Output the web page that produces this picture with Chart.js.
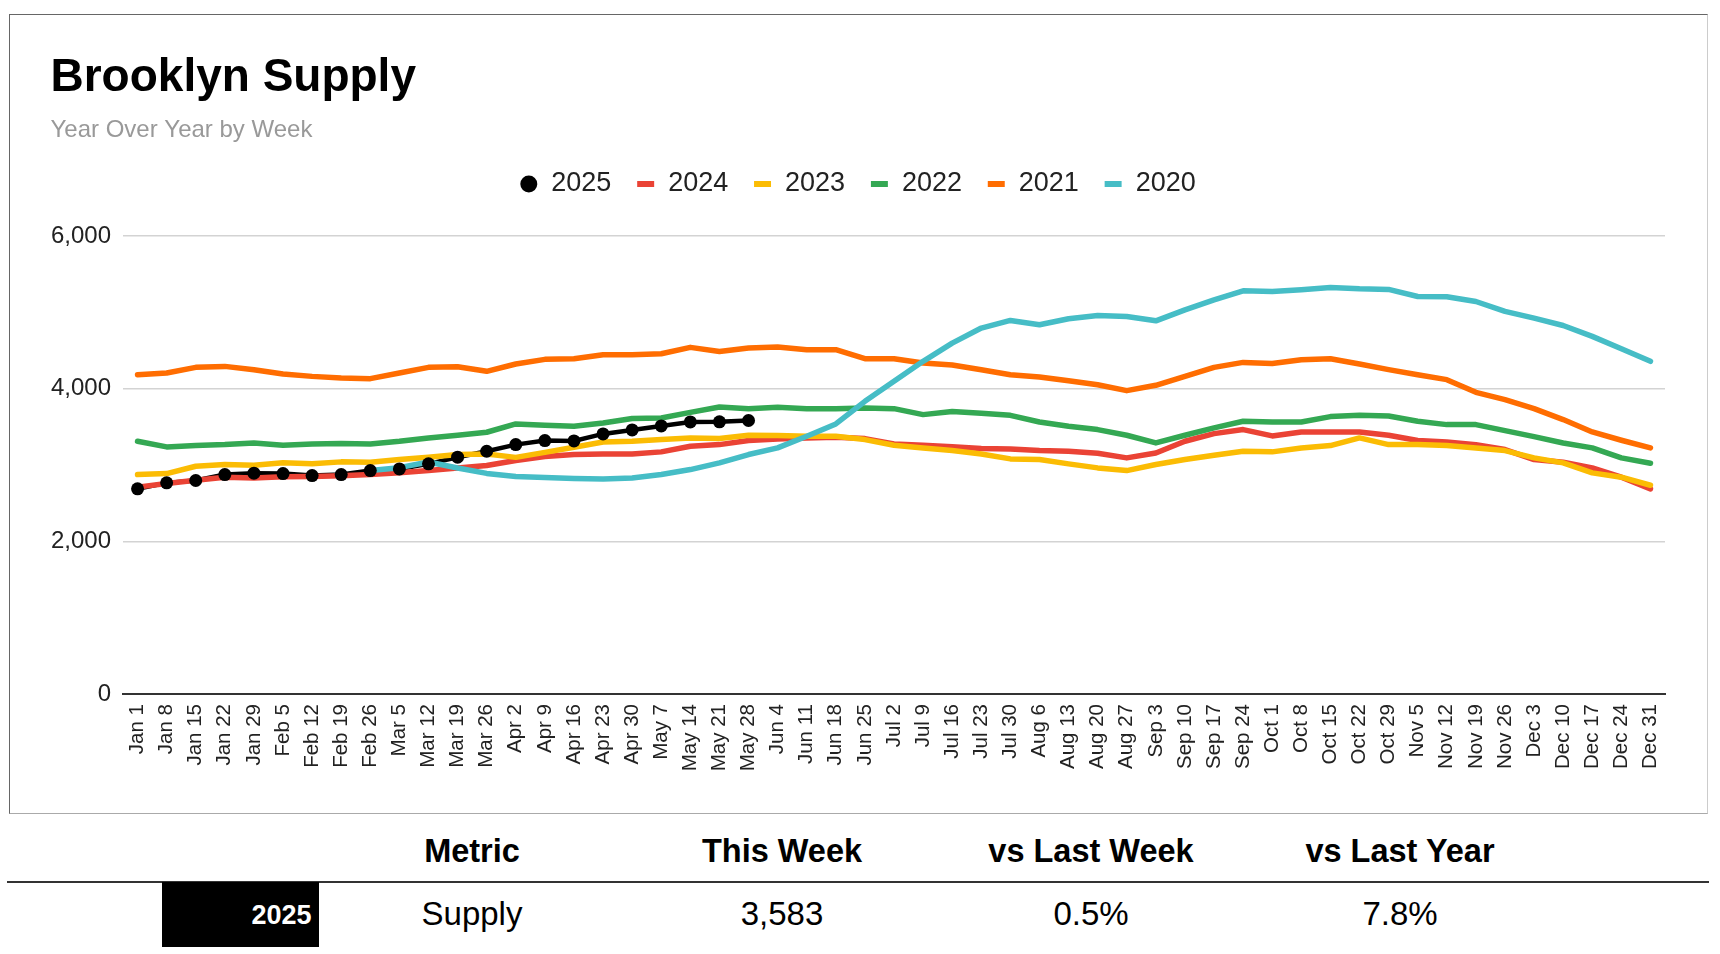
<!DOCTYPE html>
<html>
<head>
<meta charset="utf-8">
<script src="https://cdn.jsdelivr.net/npm/chart.js@4.4.1/dist/chart.umd.min.js"></script>
<style>
  html, body { margin:0; padding:0; background:#fff; width:1720px; height:954px; overflow:hidden;
    font-family:'Liberation Sans', Arial, sans-serif; }
  #frame { position:absolute; left:9px; top:14px; width:1697px; height:798px;
    border:1px solid #aaa; border-top-color:#666; border-left-color:#666; border-right-color:#ccc; }
  #wrap { position:absolute; left:0; top:0; width:1697px; height:798px; }
  .t { position:absolute; white-space:nowrap; line-height:1; transform:translateX(-50%); color:#000; }
  .h { font-weight:bold; font-size:32.5px; top:834.5px; }
  .r { font-size:33px; top:897.4px; }
  #rule { position:absolute; left:7px; top:881px; width:1702px; height:2px; background:#333; }
  #yearbox { position:absolute; left:161.5px; top:882px; width:157px; height:65px; background:#000; }
  #yeartxt { position:absolute; right:7px; top:19.8px; color:#fff; font-weight:bold; font-size:27px; line-height:1; }
</style>
</head>
<body>
<div id="frame"><div id="wrap"><canvas id="c"></canvas></div></div>

<div class="t h" style="left:472px">Metric</div>
<div class="t h" style="left:782px">This Week</div>
<div class="t h" style="left:1091px">vs Last Week</div>
<div class="t h" style="left:1400px">vs Last Year</div>
<div id="rule"></div>
<div id="yearbox"><div id="yeartxt">2025</div></div>
<div class="t r" style="left:472px">Supply</div>
<div class="t r" style="left:782px">3,583</div>
<div class="t r" style="left:1091px">0.5%</div>
<div class="t r" style="left:1400px">7.8%</div>

<script>
const weeks = ["Jan 1","Jan 8","Jan 15","Jan 22","Jan 29","Feb 5","Feb 12","Feb 19","Feb 26","Mar 5","Mar 12","Mar 19","Mar 26","Apr 2","Apr 9","Apr 16","Apr 23","Apr 30","May 7","May 14","May 21","May 28","Jun 4","Jun 11","Jun 18","Jun 25","Jul 2","Jul 9","Jul 16","Jul 23","Jul 30","Aug 6","Aug 13","Aug 20","Aug 27","Sep 3","Sep 10","Sep 17","Sep 24","Oct 1","Oct 8","Oct 15","Oct 22","Oct 29","Nov 5","Nov 12","Nov 19","Nov 26","Dec 3","Dec 10","Dec 17","Dec 24","Dec 31"];

const y2025 = [2688,2766,2797,2875,2893,2888,2862,2875,2927,2949,3015,3102,3180,3267,3320,3315,3407,3459,3512,3564,3565,3583];

const y2024 = [2710,2757,2801,2840,2831,2845,2849,2858,2875,2897,2927,2962,2993,3058,3110,3137,3145,3145,3172,3246,3267,3320,3342,3355,3363,3346,3276,3259,3238,3215,3211,3189,3180,3154,3093,3158,3311,3411,3464,3381,3433,3433,3433,3390,3320,3302,3267,3202,3071,3036,2962,2840,2687];

const y2023 = [2875,2888,2984,3006,2997,3028,3015,3041,3036,3071,3102,3137,3145,3100,3165,3233,3302,3311,3333,3355,3346,3390,3385,3377,3377,3333,3259,3224,3189,3145,3080,3071,3015,2962,2927,3006,3071,3128,3180,3172,3224,3254,3355,3267,3267,3254,3224,3189,3093,3028,2897,2840,2735];

const y2022 = [3311,3237,3254,3267,3289,3259,3276,3281,3276,3311,3355,3390,3429,3538,3522,3507,3551,3608,3616,3690,3760,3738,3756,3738,3738,3747,3738,3660,3700,3677,3651,3564,3507,3464,3390,3289,3390,3486,3573,3564,3564,3634,3651,3642,3573,3529,3529,3451,3372,3289,3224,3093,3023];

const y2021 = [4183,4205,4279,4292,4249,4192,4161,4140,4131,4205,4279,4288,4227,4323,4384,4392,4445,4445,4458,4541,4488,4532,4545,4510,4510,4392,4392,4336,4310,4249,4183,4153,4105,4052,3974,4044,4161,4279,4344,4331,4379,4392,4323,4249,4183,4118,3952,3856,3738,3595,3433,3324,3224];

const y2020 = [null,null,null,null,null,null,null,null,2927,2965,3040,2960,2890,2850,2835,2823,2818,2831,2875,2940,3028,3137,3224,3377,3538,3834,4096,4358,4597,4794,4894,4837,4916,4959,4946,4889,5033,5164,5282,5273,5295,5325,5308,5300,5208,5203,5142,5012,4924,4828,4685,4523,4358];

const yTicks = [0, 2000, 4000, 6000];

Chart.defaults.font.family = "'Liberation Sans', Arial, sans-serif";
Chart.defaults.color = '#222';

const LEGEND_GAP = 28.6;
const legendSpacer = {
  id: 'legendSpacer',
  beforeInit(chart) {
    if (!Chart.layouts) return;
    const box = {
      position: 'top', weight: 900, fullSize: true, options: {},
      left: 0, top: 0, right: 0, bottom: 0, width: 0, height: 0,
      update(maxWidth) { this.width = maxWidth; this.height = LEGEND_GAP; this.right = this.left + maxWidth; },
      isHorizontal() { return true; },
      draw() {}
    };
    Chart.layouts.addBox(chart, box);
  }
};

const mk = (label, data, color, order) => ({
  label, data, borderColor: color, backgroundColor: color,
  borderWidth: 5.5, pointRadius: 0, pointHoverRadius: 0, tension: 0, order,
  borderJoinStyle: 'round', borderCapStyle: 'round', inLegend: true
});

new Chart(document.getElementById('c'), {
  type: 'line',
  data: {
    labels: weeks,
    datasets: [
      { label: '2025', data: y2025, borderColor: '#000', backgroundColor: '#000',
        borderWidth: 4.5, pointRadius: 0, pointHoverRadius: 0, tension: 0, order: 6,
        inLegend: true, legendCircle: true },
      mk('2024', y2024, '#ea4335', 5),
      mk('2023', y2023, '#fbbc04', 4),
      mk('2022', y2022, '#34a853', 3),
      mk('2021', y2021, '#ff6d01', 2),
      mk('2020', y2020, '#46bdc6', 1),
      { label: '2025 points', data: y2025, showLine: false, borderColor: '#000', backgroundColor: '#000',
        pointRadius: 6.5, pointHoverRadius: 6.5, pointBackgroundColor: '#000', pointBorderWidth: 0,
        order: -1, inLegend: false }
    ]
  },
  options: {
    responsive: true,
    maintainAspectRatio: false,
    animation: false,
    layout: { padding: { left: 40.5, right: 42, top: 0, bottom: 0 } },
    plugins: {
      title: { display: true, text: 'Brooklyn Supply', align: 'start', color: '#000',
        font: { size: 46, weight: 'bold', lineHeight: 1.2 }, padding: { top: 36, bottom: 0 } },
      subtitle: { display: true, text: 'Year Over Year by Week', align: 'start', color: '#999',
        font: { size: 24, weight: 'normal', lineHeight: 0.8 }, padding: { top: 15, bottom: 4.7 } },
      legend: {
        display: true, position: 'top', align: 'center',
        labels: {
          usePointStyle: true, boxWidth: 18, boxHeight: 12, padding: 25.3,
          color: '#222', font: { size: 27 },
          generateLabels(chart) {
            const items = [];
            chart.data.datasets.forEach((ds, i) => {
              if (!ds.inLegend) return;
              items.push({
                text: ds.label,
                fillStyle: ds.borderColor,
                strokeStyle: ds.borderColor,
                lineWidth: ds.legendCircle ? 0 : 6,
                pointStyle: ds.legendCircle ? 'circle' : 'line',
                hidden: !chart.isDatasetVisible(i),
                datasetIndex: i,
                fontColor: '#222',
                lineCap: 'butt'
              });
            });
            return items;
          }
        }
      },
      tooltip: { enabled: false }
    },
    scales: {
      x: {
        offset: true,
        grid: { display: false, drawTicks: false },
        border: { display: true, color: '#333', width: 2 },
        ticks: { autoSkip: false, maxRotation: 90, minRotation: 90, padding: 10,
          color: '#222', font: { size: 20.5 } },
        afterFit(a) { a.height = 119; }
      },
      y: {
        min: yTicks[0], max: yTicks[yTicks.length - 1],
        afterBuildTicks(a) { a.ticks = yTicks.map(v => ({ value: v })); },
        grid: { drawTicks: false, lineWidth: 1.5,
          color: c => (c.tick && c.tick.value === 0) ? 'rgba(0,0,0,0)' : '#d3d3d3' },
        border: { display: false },
        ticks: { padding: 12, color: '#222', font: { size: 24 },
          callback: v => Number(v).toLocaleString('en-US') },
        afterFit(a) { a.width = 72.5; }
      }
    }
  },
  plugins: [legendSpacer]
});
</script>
</body>
</html>
